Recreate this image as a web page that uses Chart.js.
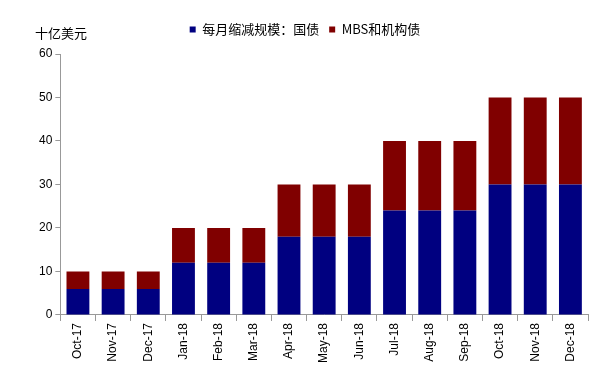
<!DOCTYPE html>
<html><head><meta charset="utf-8">
<script src="https://cdn.jsdelivr.net/npm/chart.js@4/dist/chart.umd.min.js"></script>
<style>html,body{margin:0;padding:0;background:#fff}#wrap{width:608px;height:379px}</style>
</head><body><div id="wrap"><canvas id="c" width="608" height="379"></canvas></div>
<script>
const categories = ["Oct-17","Nov-17","Dec-17","Jan-18","Feb-18","Mar-18","Apr-18","May-18","Jun-18","Jul-18","Aug-18","Sep-18","Oct-18","Nov-18","Dec-18"];
const treasury = [6,6,6,12,12,12,18,18,18,24,24,24,30,30,30];
const mbs = [4,4,4,8,8,8,12,12,12,16,16,16,20,20,20];
const seriesNames = ["每月缩减规模：国债","MBS和机构债"];
const yUnit = "十亿美元";

const unitPlugin = {
  id:'unit',
  beforeUpdate(chart){
    if (chart.legend && !chart.legend._patched){
      const orig = chart.legend.fit;
      chart.legend.fit = function(){ orig.call(this); this.height += 8; };
      chart.legend._patched = true;
    }
  },
  afterLayout(chart){
    if (chart.legend){ chart.legend.left -= 7; chart.legend.right -= 7; }
  },
  afterDraw(chart){
    const ctx = chart.ctx;
    ctx.save();
    ctx.font = '13px "Noto Sans CJK SC"';
    ctx.fillStyle = '#000';
    ctx.textBaseline = 'middle';
    ctx.textAlign = 'left';
    ctx.fillText(yUnit, 35, 33);
    ctx.restore();
  }
};

new Chart(document.getElementById('c'), {
  type:'bar',
  data:{
    labels:categories,
    datasets:[
      {label:seriesNames[0], data:treasury, backgroundColor:'#000080', barPercentage:0.65, categoryPercentage:1},
      {label:seriesNames[1], data:mbs, backgroundColor:'#800000', barPercentage:0.65, categoryPercentage:1}
    ]
  },
  options:{
    responsive:false,
    animation:false,
    layout:{padding:{left:36,right:20,top:13,bottom:14}},
    plugins:{
      legend:{
        position:'top',
        labels:{boxWidth:6,boxHeight:6,padding:10,color:'#000',font:{family:'"Noto Sans CJK SC"',size:13}}
      },
      tooltip:{enabled:false},
      title:{display:false}
    },
    scales:{
      x:{
        stacked:true,
        grid:{display:true,drawOnChartArea:false,tickLength:6,color:'#999'},
        border:{color:'#999'},
        ticks:{minRotation:90,maxRotation:90,color:'#000',font:{family:'"Liberation Sans"',size:12},padding:2}
      },
      y:{
        stacked:true,
        min:0,max:60,
        grid:{display:true,drawOnChartArea:false,tickLength:5,color:'#999'},
        border:{color:'#999'},
        ticks:{stepSize:10,color:'#000',font:{family:'"Liberation Sans"',size:12},padding:3}
      }
    }
  },
  plugins:[unitPlugin]
});
</script></body></html>
